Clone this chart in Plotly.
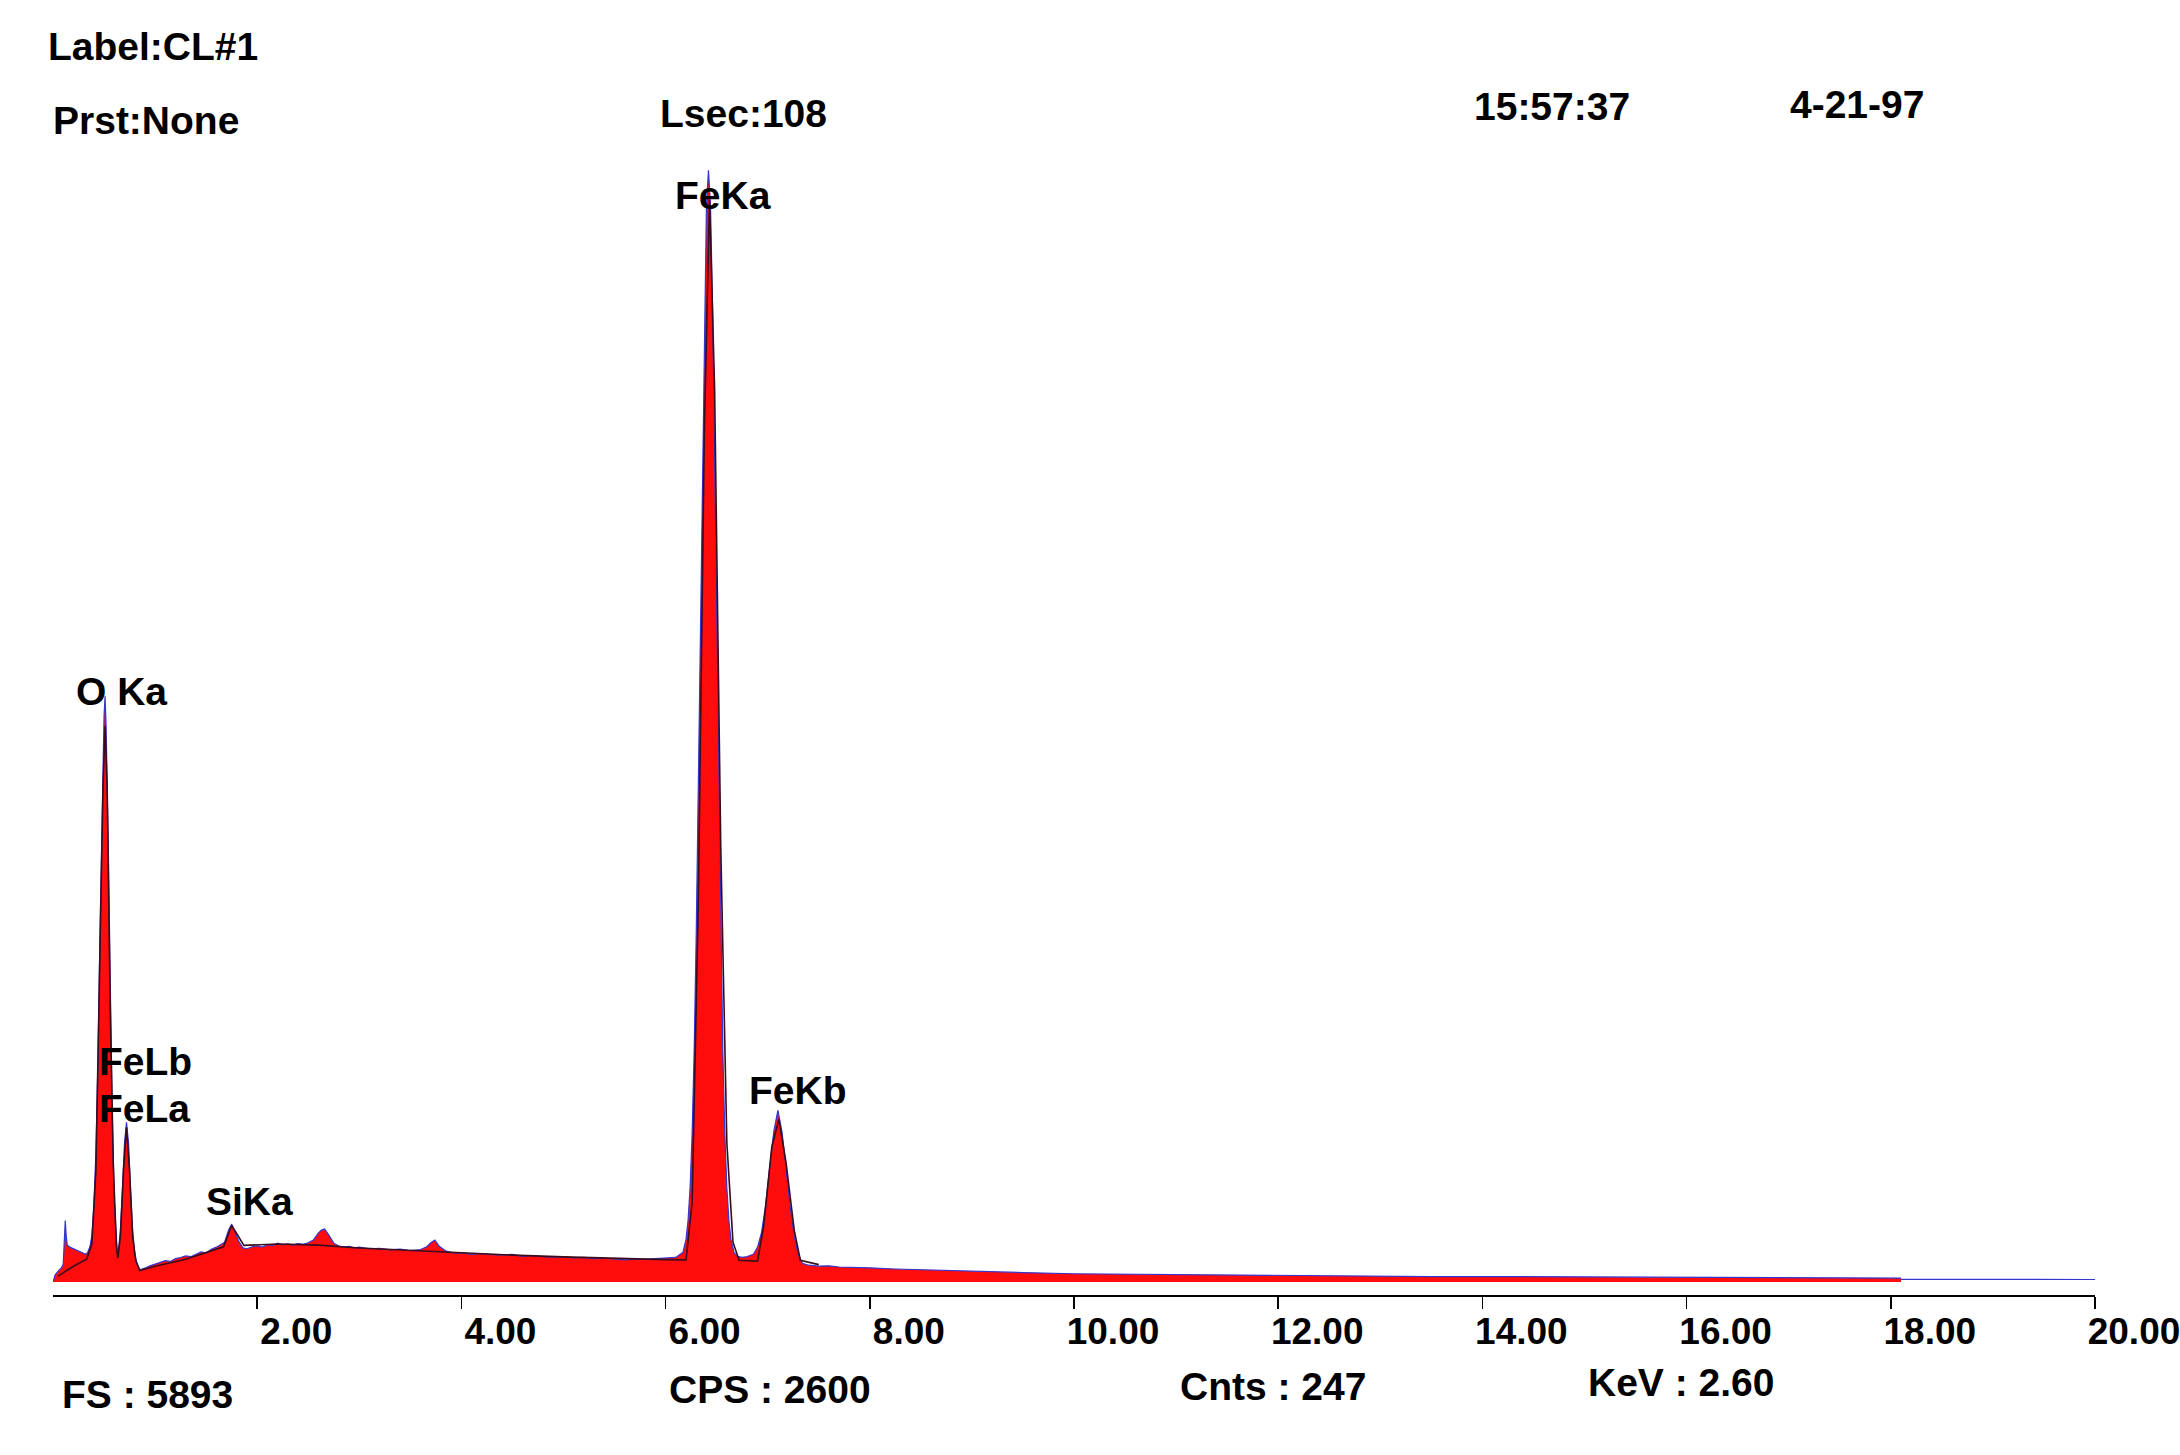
import plotly.graph_objects as go

# ---------------- data ----------------
spectrum_kev = [
    0.00, 0.02, 0.05, 0.08, 0.10, 0.11, 0.12, 0.13, 0.14, 0.17, 0.20, 0.23, 0.26, 0.29, 0.32, 0.34,
    0.36, 0.38, 0.40, 0.42, 0.44, 0.46, 0.48, 0.50, 0.51, 0.52, 0.54, 0.56, 0.58, 0.60, 0.62, 0.63,
    0.64, 0.66, 0.68, 0.70, 0.72, 0.74, 0.76, 0.78, 0.80, 0.82, 0.85, 0.90, 0.95, 1.00, 1.05, 1.10,
    1.15, 1.20, 1.25, 1.30, 1.35, 1.40, 1.45, 1.50, 1.55, 1.60, 1.64, 1.68, 1.72, 1.75, 1.78, 1.82,
    1.86, 1.90, 1.95, 2.00, 2.05, 2.10, 2.15, 2.20, 2.25, 2.30, 2.35, 2.40, 2.45, 2.50, 2.55, 2.60,
    2.63, 2.66, 2.70, 2.75, 2.80, 2.85, 2.90, 2.95, 3.00, 3.10, 3.20, 3.30, 3.40, 3.50, 3.60, 3.66,
    3.70, 3.74, 3.78, 3.85, 3.90, 3.95, 4.00, 4.10, 4.20, 4.30, 4.40, 4.50, 4.60, 4.70, 4.80, 4.90,
    5.00, 5.10, 5.20, 5.30, 5.40, 5.50, 5.60, 5.70, 5.80, 5.90, 6.00, 6.10, 6.17, 6.20, 6.22, 6.24,
    6.26, 6.28, 6.30, 6.32, 6.34, 6.36, 6.38, 6.40, 6.42, 6.44, 6.46, 6.48, 6.50, 6.52, 6.54, 6.56,
    6.58, 6.60, 6.62, 6.64, 6.67, 6.70, 6.75, 6.80, 6.86, 6.90, 6.94, 6.98, 7.02, 7.06, 7.10, 7.12,
    7.14, 7.18, 7.22, 7.26, 7.30, 7.34, 7.40, 7.50, 7.60, 7.70, 7.80, 7.90, 8.00, 8.25, 8.50, 8.75,
    9.00, 9.50, 10.00, 10.50, 11.00, 11.50, 12.00, 12.50, 13.00, 13.50, 14.00, 14.50, 15.00, 15.50,
    16.00, 16.50, 17.00, 17.50, 18.00, 18.10,
]
spectrum_counts = [
    0, 35, 55, 70, 90, 200, 310, 230, 185, 175, 168, 160, 152, 145, 140, 150,
    175, 230, 380, 650, 1100, 1750, 2400, 2850, 2950, 2800, 2250, 1500, 850, 420, 195, 145,
    150, 260, 460, 700, 805, 700, 460, 260, 150, 95, 62, 70, 82, 92, 98, 108,
    104, 118, 124, 132, 128, 140, 152, 146, 165, 176, 190, 200, 262, 292, 255, 205,
    172, 168, 178, 182, 176, 188, 184, 196, 188, 192, 186, 194, 190, 198, 212, 248,
    262, 268, 238, 196, 182, 176, 180, 172, 176, 168, 170, 162, 166, 158, 164, 178,
    198, 212, 182, 156, 150, 146, 148, 140, 144, 138, 136, 140, 130, 134, 128, 126,
    128, 122, 124, 118, 120, 116, 112, 116, 114, 118, 120, 124, 150, 215, 310, 475,
    750, 1170, 1750, 2480, 3315, 4165, 4910, 5420, 5600, 5420, 4910, 4165, 3315, 2480, 1750, 1170,
    750, 475, 310, 215, 150, 130, 125, 128, 140, 175, 250, 390, 580, 760, 865, 800,
    757, 575, 380, 230, 140, 95, 85, 80, 82, 76, 75, 73, 72, 66, 62, 58,
    55, 48, 42, 40, 36, 34, 32, 30, 30, 28, 28, 27, 27, 26,
    26, 25, 25, 24, 22, 20,
]
tail_kev = [18.10, 18.50, 19.00, 19.50, 20.00]
tail_counts = [14, 13, 14, 12, 13]

fit_kev = [
    0.05, 0.20, 0.33, 0.38, 0.42, 0.46, 0.49, 0.51, 0.53, 0.56, 0.59, 0.62, 0.635, 0.66, 0.69, 0.72,
    0.75, 0.78, 0.81, 0.85, 1.00, 1.30, 1.60, 1.67, 1.75, 1.87, 2.20, 2.60, 3.00, 3.40, 4.00, 4.50,
    5.00, 5.50, 6.00, 6.20, 6.26, 6.32, 6.38, 6.43, 6.48, 6.54, 6.60, 6.66, 6.72, 6.90, 6.96, 7.04,
    7.11, 7.18, 7.26, 7.32, 7.50,
]
fit_counts = [
    30, 80, 115, 190, 560, 1650, 2500, 2800, 2500, 1400, 600, 190, 120, 230, 560, 780,
    560, 230, 110, 58, 80, 115, 165, 178, 285, 185, 192, 186, 172, 162, 146, 136,
    127, 119, 113, 112, 400, 1900, 4300, 5450, 4500, 2200, 700, 200, 110, 106, 280, 680,
    820, 600, 260, 110, 88,
]

tick_values = [2, 4, 6, 8, 10, 12, 14, 16, 18, 20]
tick_labels = ["2.00", "4.00", "6.00", "8.00", "10.00", "12.00", "14.00", "16.00", "18.00", "20.00"]

peak_names = ["FeKa", "O Ka", "FeLb", "FeLa", "SiKa", "FeKb"]
header_texts = ["Label:CL#1", "Prst:None", "Lsec:108", "15:57:37", "4-21-97"]
footer_texts = ["FS : 5893", "CPS : 2600", "Cnts : 247", "KeV : 2.60"]
full_scale = 5893

# ---------------- layout geometry ----------------
W, H = 2180, 1455
ML, MR, MT, MB = 53, 85, 112, 160
PW, PH = W - ML - MR, H - MT - MB


def paper(px, py):
    return (px - ML) / PW, (H - MB - py) / PH


FONT = "Liberation Sans, Arial, sans-serif"

fig = go.Figure()
fig.add_trace(go.Scatter(
    x=spectrum_kev, y=spectrum_counts, mode="lines",
    fill="tozeroy", fillcolor="#ff0d0d",
    line=dict(color="#3535d0", width=1.2),
    hoverinfo="skip", showlegend=False,
))
fig.add_trace(go.Scatter(
    x=fit_kev, y=fit_counts, mode="lines",
    line=dict(color="#3a0c1c", width=1.6),
    hoverinfo="skip", showlegend=False,
))
fig.add_trace(go.Scatter(
    x=tail_kev, y=tail_counts, mode="lines",
    line=dict(color="#3535d0", width=1.2),
    hoverinfo="skip", showlegend=False,
))

annotations = []
text_font = dict(family=FONT, size=39, color="black", weight="bold")
header_pos = [(46, 46), (51, 120), (658, 114), (1472, 107), (1788, 104)]
for txt, (px, py) in zip(header_texts, header_pos):
    xp, yp = paper(px, py)
    annotations.append(dict(text=txt, x=xp, y=yp, xref="paper", yref="paper",
                            xanchor="left", yanchor="middle", showarrow=False, font=text_font))
footer_pos = [(60, 1394), (667, 1390), (1178, 1386), (1586, 1382)]
for txt, (px, py) in zip(footer_texts, footer_pos):
    xp, yp = paper(px, py)
    annotations.append(dict(text=txt, x=xp, y=yp, xref="paper", yref="paper",
                            xanchor="left", yanchor="middle", showarrow=False, font=text_font))
peak_pos = [(673, 195), (74, 691), (97, 1061), (97, 1108), (204, 1201), (747, 1090)]
for txt, (px, py) in zip(peak_names, peak_pos):
    xp, yp = paper(px, py)
    annotations.append(dict(text=txt, x=xp, y=yp, xref="paper", yref="paper",
                            xanchor="left", yanchor="middle", showarrow=False, font=text_font))

fig.update_layout(
    width=W, height=H,
    margin=dict(l=ML, r=MR, t=MT, b=MB, pad=0, autoexpand=False),
    paper_bgcolor="white", plot_bgcolor="white",
    annotations=annotations,
    xaxis=dict(
        range=[0, 20], showgrid=False, zeroline=False, automargin=False,
        showline=True, linecolor="black", linewidth=1.5,
        tickmode="array", tickvals=tick_values, ticktext=tick_labels,
        ticks="outside", ticklen=12, tickwidth=1.5, tickcolor="black",
        ticklabelshift=39, ticklabelstandoff=-9, ticklabeloverflow="allow",
        tickfont=dict(family=FONT, size=37, color="black", weight="bold"),
        fixedrange=True,
    ),
    yaxis=dict(range=[-65, full_scale], visible=False, fixedrange=True),
)

fig.write_html(
    "out.html",
    config={"displayModeBar": False, "staticPlot": True},
    post_script="document.body.style.margin='0';document.body.style.overflow='hidden';",
)
